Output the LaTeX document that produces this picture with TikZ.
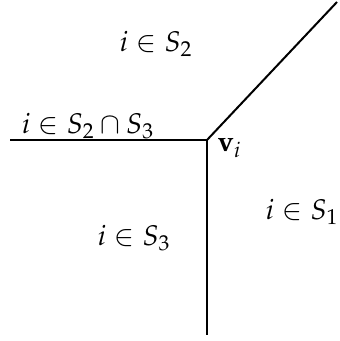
\documentclass[tikz,border=0pt]{standalone}
\usepackage{mathpazo}
\usepackage{tikz}

\tikzset{
  region/.style={font=\fontsize{14.2}{17}\selectfont, inner sep=0pt},
  ray/.style={line width=1pt}
}

\begin{document}
\begin{tikzpicture}[x=0.5pt, y=-0.5pt]
    \useasboundingbox (0,0) rectangle (339,341);

    % the vertex and the three rays
    \coordinate (vi) at (207,140);
    \coordinate (west) at (10,140);
    \coordinate (south) at (207,335);
    \coordinate (northeast) at (337,2);
    \draw[ray] (west) -- (vi) -- (south);
    \draw[ray] (vi) -- (northeast);

    \node[region, anchor=west] (vlabel) at (217,148) {$\mathbf{v}_i$};
    \node[region, anchor=base] (s23) at (88,134) {$i \in S_2 \cap S_3$};

    \node[region] (s2) at (156,44) {$i \in S_2$};
    \node[region] (s1) at (302,212) {$i \in S_1$};
    \node[region] (s3) at (134,238) {$i \in S_3$};
\end{tikzpicture}
\end{document}
